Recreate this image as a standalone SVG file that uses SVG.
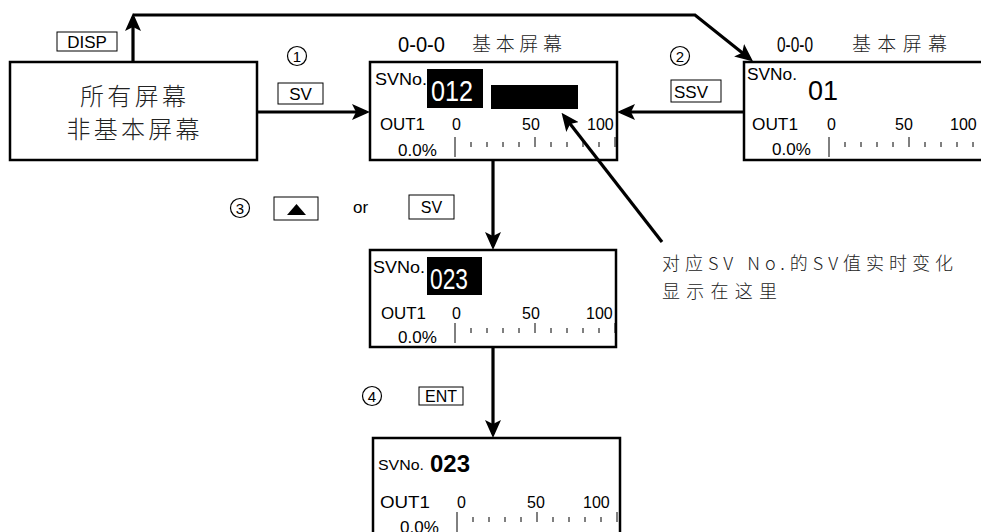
<svg xmlns="http://www.w3.org/2000/svg" xmlns:xlink="http://www.w3.org/1999/xlink" width="981" height="532" viewBox="0 0 981 532">
<style>
  .box{fill:#fff;stroke:#000;stroke-width:2.5}
  .key{fill:#fff;stroke:#000;stroke-width:1}
  .lat{font-family:"Liberation Sans",Arial,sans-serif;fill:#000}
  .cjk{font-family:"Noto Sans CJK SC","Noto Sans CJK JP",sans-serif;fill:#222;font-weight:300}
  .ring{fill:none;stroke:#000;stroke-width:1.2}
  .num{font-family:"Liberation Sans",Arial,sans-serif;fill:#000;font-size:15px;text-anchor:middle}
  .conn{fill:none;stroke:#000;stroke-width:3.2}
  .tick{stroke:#000;stroke-width:1}
  .inv{fill:#000}
</style>
<defs>
  <marker id="ah" markerUnits="userSpaceOnUse" markerWidth="18" markerHeight="16" refX="14" refY="8" orient="auto">
    <path d="M0,0 L18,8 L0,16 L4,8 z" fill="#000"/>
  </marker>
  <g id="scale">
    <line class="tick" x1="0" y1="0" x2="0" y2="20" stroke-width="1.3"/>
    <path class="tick" d="M16,5V10M32,5V10M48,5V10M64,5V10M80,0V10M96,5V10M112,5V10M128,5V10M144,5V10M160,0V10"/>
  </g>
</defs>

<g id="node-all">
  <rect class="box" x="10" y="62" width="247" height="98"/>
  <text class="cjk" x="133" y="105" font-size="24" text-anchor="middle" textLength="106">所有屏幕</text>
  <text class="cjk" x="133" y="138" font-size="24" text-anchor="middle" textLength="133">非基本屏幕</text>
</g>

<g id="key-disp">
  <rect class="key" x="57" y="32" width="60" height="19"/>
  <text class="lat" x="87" y="48" font-size="17" text-anchor="middle">DISP</text>
</g>

<g id="step1">
  <circle class="ring" cx="297" cy="56" r="9.5"/>
  <text class="num" x="297" y="61.5">1</text>
  <rect class="key" x="278" y="83" width="45" height="21"/>
  <text class="lat" x="300.5" y="100" font-size="17" text-anchor="middle">SV</text>
</g>

<g id="step2">
  <circle class="ring" cx="680" cy="56" r="9.5"/>
  <text class="num" x="680" y="61.5">2</text>
  <rect class="key" x="671" y="80" width="50" height="22"/>
  <text class="lat" x="674" y="98" font-size="17" textLength="34" lengthAdjust="spacingAndGlyphs">SSV</text>
</g>

<g id="node-main">
  <text class="lat" x="398" y="52" font-size="22" textLength="47" lengthAdjust="spacingAndGlyphs">0-0-0</text>
  <text class="cjk" x="472" y="51" font-size="19" textLength="90">基本屏幕</text>
  <rect class="box" x="370" y="62" width="247" height="98"/>
  <text class="lat" x="375" y="85" font-size="17" textLength="52" lengthAdjust="spacingAndGlyphs">SVNo.</text>
  <rect class="inv" x="427" y="69" width="56" height="39"/>
  <text class="lat" x="431" y="101" font-size="30" style="fill:#fff" textLength="42" lengthAdjust="spacingAndGlyphs">012</text>
  <rect class="inv" x="491" y="85" width="87" height="24"/>
  <text class="lat" x="380" y="130" font-size="16" textLength="45" lengthAdjust="spacingAndGlyphs">OUT1</text>
  <text class="lat" x="452" y="130" font-size="16">0</text>
  <text class="lat" x="522" y="130" font-size="16">50</text>
  <text class="lat" x="587" y="130" font-size="16">100</text>
  <text class="lat" x="398" y="156" font-size="17">0.0%</text>
  <use xlink:href="#scale" href="#scale" x="455" y="137"/>
</g>

<g id="node-right">
  <text class="lat" x="777" y="52" font-size="22" textLength="36" lengthAdjust="spacingAndGlyphs">0-0-0</text>
  <text class="cjk" x="852" y="51" font-size="19" textLength="95">基本屏幕</text>
  <rect class="box" x="744" y="62" width="250" height="98"/>
  <text class="lat" x="747" y="80" font-size="16" textLength="50" lengthAdjust="spacingAndGlyphs">SVNo.</text>
  <text class="lat" x="808" y="100" font-size="27">01</text>
  <text class="lat" x="752" y="130" font-size="17" textLength="46" lengthAdjust="spacingAndGlyphs">OUT1</text>
  <text class="lat" x="827" y="130" font-size="16">0</text>
  <text class="lat" x="895" y="130" font-size="16">50</text>
  <text class="lat" x="950" y="130" font-size="16">100</text>
  <text class="lat" x="772" y="155" font-size="17">0.0%</text>
  <use xlink:href="#scale" href="#scale" x="829" y="137"/>
</g>

<g id="step3">
  <circle class="ring" cx="240" cy="208" r="9.5"/>
  <text class="num" x="240" y="213.5">3</text>
  <rect class="key" x="274" y="197" width="44" height="23"/>
  <polygon points="287,215 306,215 296.5,204" fill="#000"/>
  <text class="lat" x="353" y="213" font-size="17">or</text>
  <rect class="key" x="409" y="195" width="45" height="24"/>
  <text class="lat" x="431.5" y="213" font-size="16" text-anchor="middle">SV</text>
</g>

<g id="node-edit">
  <rect class="box" x="370" y="250" width="246" height="97"/>
  <text class="lat" x="373" y="273" font-size="17" textLength="52" lengthAdjust="spacingAndGlyphs">SVNo.</text>
  <rect class="inv" x="427" y="257" width="55" height="38"/>
  <text class="lat" x="430" y="289" font-size="29" style="fill:#fff" textLength="38" lengthAdjust="spacingAndGlyphs">023</text>
  <text class="lat" x="381" y="319" font-size="16" textLength="45" lengthAdjust="spacingAndGlyphs">OUT1</text>
  <text class="lat" x="452" y="319" font-size="16">0</text>
  <text class="lat" x="522" y="319" font-size="16">50</text>
  <text class="lat" x="586" y="319" font-size="16">100</text>
  <text class="lat" x="398" y="343" font-size="17">0.0%</text>
  <use xlink:href="#scale" href="#scale" x="455" y="323"/>
</g>

<g id="note">
  <text class="cjk" x="662" y="270" font-size="18" textLength="291">对应SV No.的SV值实时变化</text>
  <text class="cjk" x="662" y="298" font-size="18" textLength="115">显示在这里</text>
</g>

<g id="step4">
  <circle class="ring" cx="372" cy="396" r="9.5"/>
  <text class="num" x="372" y="401.5">4</text>
  <rect class="key" x="419" y="387" width="44" height="18"/>
  <text class="lat" x="441" y="402" font-size="16" text-anchor="middle">ENT</text>
</g>

<g id="node-done">
  <rect class="box" x="373" y="438" width="247" height="100"/>
  <text class="lat" x="378" y="470" font-size="15" textLength="46" lengthAdjust="spacingAndGlyphs">SVNo.</text>
  <text class="lat" x="430" y="472" font-size="23" font-weight="bold" textLength="40" lengthAdjust="spacingAndGlyphs">023</text>
  <text class="lat" x="380" y="508" font-size="17" textLength="50" lengthAdjust="spacingAndGlyphs">OUT1</text>
  <text class="lat" x="457" y="508" font-size="16">0</text>
  <text class="lat" x="527" y="508" font-size="16">50</text>
  <text class="lat" x="583" y="508" font-size="16">100</text>
  <text class="lat" x="400" y="533" font-size="17">0.0%</text>
  <use xlink:href="#scale" href="#scale" x="457" y="512"/>
</g>

<g id="connectors">
  <line class="conn" x1="257" y1="112" x2="366" y2="112" marker-end="url(#ah)"/>
  <line class="conn" x1="744" y1="112" x2="621" y2="112" marker-end="url(#ah)"/>
  <line class="conn" x1="133" y1="62" x2="133" y2="17" marker-end="url(#ah)"/>
  <path class="conn" d="M133,15 H695 L750,59" marker-end="url(#ah)"/>
  <line class="conn" x1="493" y1="160" x2="493" y2="246" marker-end="url(#ah)"/>
  <line class="conn" x1="493" y1="347" x2="493" y2="434" marker-end="url(#ah)"/>
  <line class="conn" x1="662" y1="242" x2="564" y2="116" marker-end="url(#ah)"/>
</g>
</svg>
